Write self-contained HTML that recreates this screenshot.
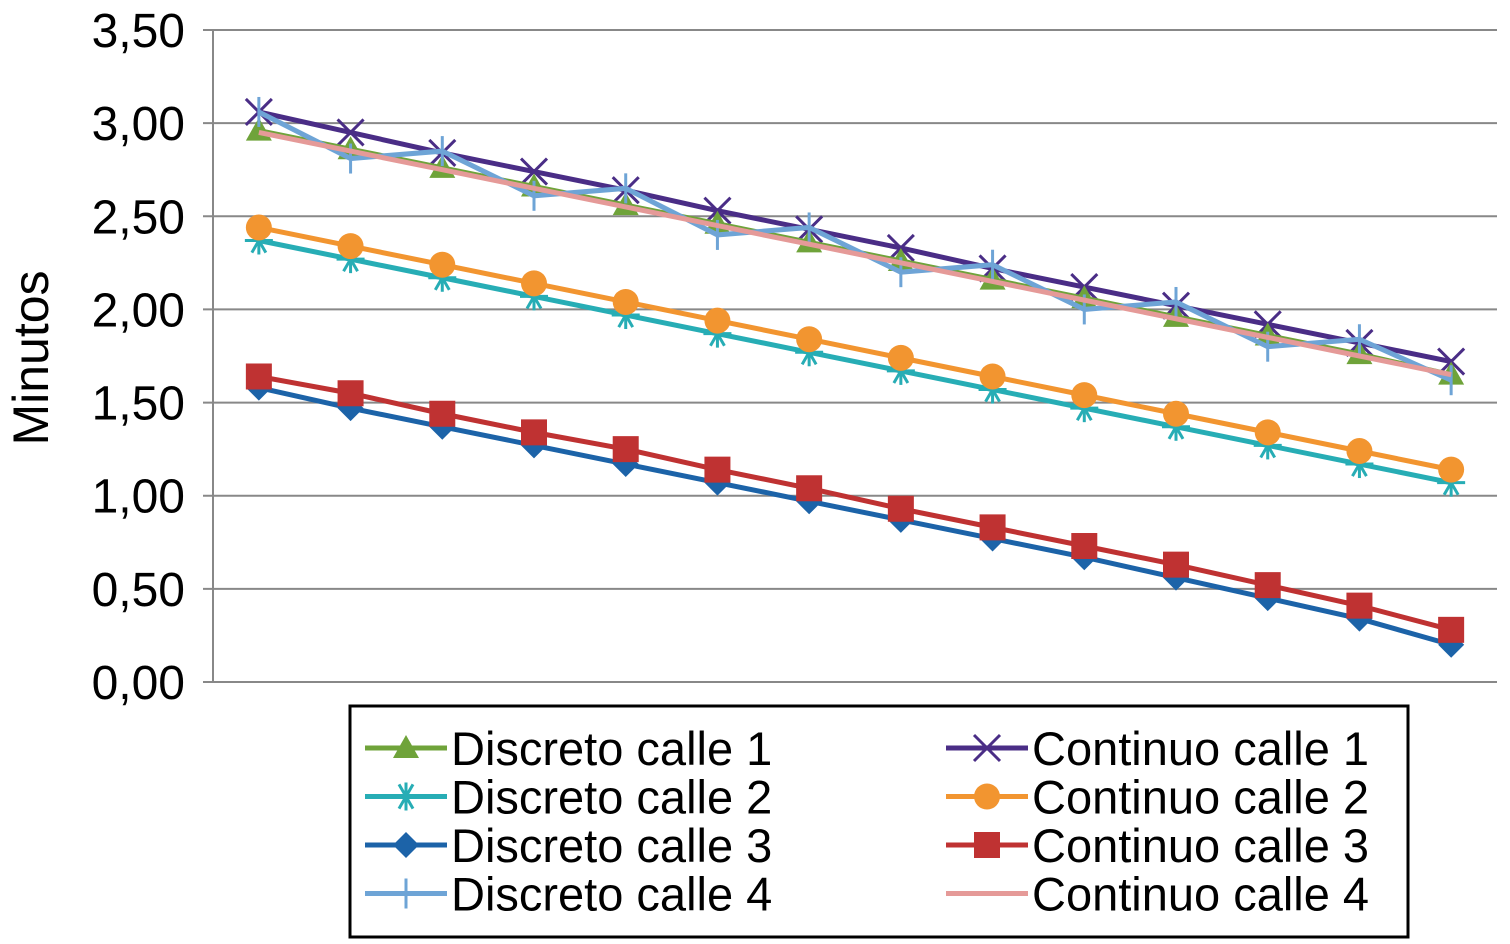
<!DOCTYPE html>
<html><head><meta charset="utf-8"><style>
body{margin:0;background:#fff;width:1510px;height:939px;overflow:hidden;font-family:"Liberation Sans",sans-serif}
</style></head><body>
<svg id="chart" width="1510" height="939" xmlns="http://www.w3.org/2000/svg">
<g id="grid"></g><g id="series"></g>
<text transform="translate(48,358) rotate(-90)" text-anchor="middle" font-size="50" fill="#000">Minutos</text>
<rect x="350" y="706" width="1058" height="231" fill="#fff" stroke="#000" stroke-width="3"/>
<g id="legend"></g>
</svg>
<script>
const categories=[1,2,3,4,5,6,7,8,9,10,11,12,13,14];
const yTicks=[0,0.5,1,1.5,2,2.5,3,3.5];
const yTickLabels=["0,00","0,50","1,00","1,50","2,00","2,50","3,00","3,50"];
const seriesNames=["Discreto calle 1","Discreto calle 2","Discreto calle 3","Discreto calle 4","Continuo calle 1","Continuo calle 2","Continuo calle 3","Continuo calle 4"];
const discreto1=[2.96,2.86,2.76,2.66,2.56,2.46,2.36,2.26,2.16,2.06,1.96,1.86,1.76,1.65];
const discreto2=[2.37,2.27,2.17,2.07,1.97,1.87,1.77,1.67,1.57,1.47,1.37,1.27,1.17,1.07];
const discreto3=[1.58,1.47,1.37,1.27,1.17,1.07,0.97,0.87,0.77,0.67,0.56,0.45,0.34,0.20];
const discreto4=[3.06,2.81,2.85,2.61,2.65,2.40,2.44,2.20,2.24,2.00,2.04,1.80,1.84,1.62];
const continuo1=[3.06,2.95,2.84,2.74,2.64,2.53,2.43,2.33,2.22,2.12,2.02,1.92,1.82,1.72];
const continuo2=[2.44,2.34,2.24,2.14,2.04,1.94,1.84,1.74,1.64,1.54,1.44,1.34,1.24,1.14];
const continuo3=[1.64,1.55,1.44,1.34,1.25,1.14,1.04,0.93,0.83,0.73,0.63,0.52,0.41,0.28];
const continuo4=[2.95,2.85,2.75,2.65,2.55,2.45,2.35,2.25,2.15,2.05,1.95,1.85,1.75,1.65];

const NS="http://www.w3.org/2000/svg";
const L=213,R=1497,T=30,B=682;
const x=i=>L+(R-L)/categories.length*(i+0.5);
const y=v=>B-(B-T)*v/3.5;
function mk(tag,attrs,parent){const e=document.createElementNS(NS,tag);for(const k in attrs)e.setAttribute(k,attrs[k]);parent.appendChild(e);return e;}
const grid=document.getElementById('grid');
yTicks.forEach((t,i)=>{
  const l=mk('line',{x1:L-10,x2:R,y1:y(t),y2:y(t),stroke:'#888','stroke-width':2},grid);
  
  
  const tx=mk('text',{x:185,y:y(t)+17,'text-anchor':'end','font-size':48,fill:'#000'},grid);
  tx.textContent=yTickLabels[i];
  
  
});
const ax=mk('line',{x1:L,x2:L,y1:T,y2:B,stroke:'#888','stroke-width':2},grid);



function marker(g,type,cx,cy,c){
  if(type==='tri')mk('polygon',{points:`${cx},${cy-13} ${cx-13},${cy+10} ${cx+13},${cy+10}`,fill:c},g);
  else if(type==='star'){for(const a of [0,60,120])mk('line',{x1:cx-14*Math.cos(a*Math.PI/180),y1:cy-14*Math.sin(a*Math.PI/180),x2:cx+14*Math.cos(a*Math.PI/180),y2:cy+14*Math.sin(a*Math.PI/180),stroke:c,'stroke-width':3},g);mk('line',{x1:cx,y1:cy-14,x2:cx,y2:cy+14,stroke:c,'stroke-width':3},g);}
  else if(type==='dia')mk('polygon',{points:`${cx},${cy-13} ${cx+13},${cy} ${cx},${cy+13} ${cx-13},${cy}`,fill:c},g);
  else if(type==='plus'){mk('line',{x1:cx,y1:cy-15,x2:cx,y2:cy+15,stroke:c,'stroke-width':3},g);}
  else if(type==='x'){mk('line',{x1:cx-13,y1:cy-13,x2:cx+13,y2:cy+13,stroke:c,'stroke-width':3},g);mk('line',{x1:cx-13,y1:cy+13,x2:cx+13,y2:cy-13,stroke:c,'stroke-width':3},g);}
  else if(type==='circ')mk('circle',{cx,cy,r:13,fill:c},g);
  else if(type==='sq')mk('rect',{x:cx-13,y:cy-13,width:26,height:26,fill:c},g);
}
const S=[
 [discreto1,'#6fa33a','tri'],[discreto2,'#27adb5','star'],[discreto3,'#1c63a8','dia'],[discreto4,'#6ea4d6','plus'],
 [continuo1,'#4a2d86','x'],[continuo2,'#f29530','circ'],[continuo3,'#bf3232','sq'],[continuo4,'#e59a98','none']
];
const sg=document.getElementById('series');
const order=[1,5,2,6,4,0,3,7];
order.forEach(si=>{
  const [d,c,m]=S[si];
  const g=mk('g',{},sg);
  
  
  mk('polyline',{points:d.map((v,i)=>x(i)+','+y(v)).join(' '),fill:'none',stroke:c,'stroke-width':5},g);
  d.forEach((v,i)=>marker(g,m,x(i),y(v),c));
});
const lg=document.getElementById('legend');
seriesNames.forEach((n,i)=>{
  const col=i<4?0:1,row=i%4;
  const lx=col?946:365,ty=748+row*48.5;
  const g=mk('g',{},lg);
  
  
  mk('line',{x1:lx,x2:lx+82,y1:ty,y2:ty,stroke:S[i][1],'stroke-width':5},g);
  marker(g,S[i][2],lx+41,ty,S[i][1]);
  const t=mk('text',{x:lx+86,y:ty+17,'font-size':47,fill:'#000'},g);
  t.textContent=n;
});
</script>
</body></html>
